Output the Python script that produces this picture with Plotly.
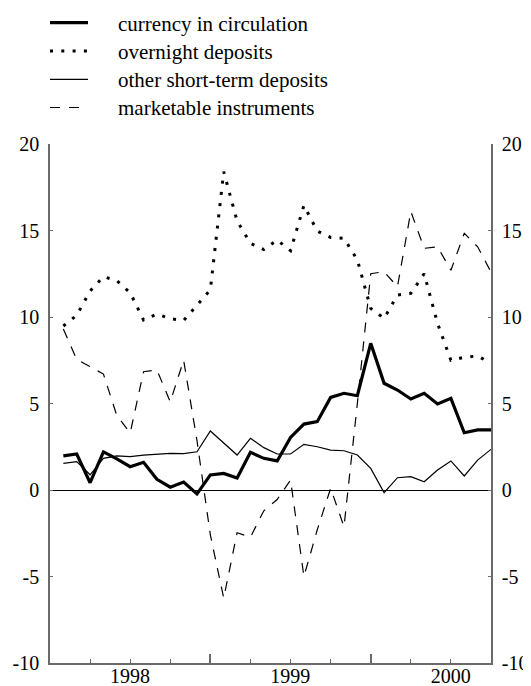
import plotly.graph_objects as go

# months since Dec 1997 (1 = Jan 1998 ... 33 = Sep 2000)
months = list(range(1, 34))

currency = [1.97, 2.08, 0.42, 2.2, 1.8, 1.35, 1.6, 0.62, 0.16, 0.46, -0.23, 0.87,
            0.96, 0.69, 2.18, 1.83, 1.68, 3.04, 3.81, 3.95, 5.35, 5.59, 5.45, 8.48,
            6.17, 5.78, 5.26, 5.59, 4.97, 5.3, 3.31, 3.47, 3.47]
overnight = [9.48, 10.1, 11.5, 12.33, 12.1, 11.4, 9.83, 10.17, 9.9, 9.8, 10.68, 11.58,
             18.4, 15.55, 14.26, 13.9, 14.45, 13.83, 16.45, 14.97, 14.6, 14.55, 13.3, 10.5,
             9.92, 11.27, 11.37, 12.5, 9.63, 7.5, 7.67, 7.75, 7.32]
other_st = [1.54, 1.64, 0.88, 1.83, 1.97, 1.93, 2.02, 2.06, 2.12, 2.1, 2.21, 3.41,
            2.73, 2.02, 2.99, 2.45, 2.08, 2.08, 2.64, 2.5, 2.31, 2.27, 2.02, 1.25,
            -0.15, 0.71, 0.77, 0.48, 1.16, 1.68, 0.81, 1.73, 2.35]
marketable = [9.3, 7.55, 7.13, 6.7, 4.3, 3.3, 6.84, 6.94, 5.1, 7.5, 2.85, -2.6,
              -6.25, -2.47, -2.73, -1.2, -0.55, 0.58, -5.0, -2.3, 0.1, -2.12, 5.0, 12.5,
              12.62, 11.75, 16.1, 13.97, 14.06, 12.7, 14.84, 14.06, 12.6]

series_names = ["currency in circulation", "overnight deposits",
                "other short-term deposits", "marketable instruments"]

year_tickvals = [0, 12, 24]
year_labels = ["1998", "1999", "2000"]
y_tickvals = [-10, -5, 0, 5, 10, 15, 20]
y_ticktext = ["-10", "-5", "0", "5", "10", "15", "20"]

FONT = "Liberation Serif, Times New Roman, DejaVu Serif, serif"
GREY = "#6a6a6a"
OFF = 8                      # default page (body) margin of the html page
W, H = 531 - OFF, 686 - OFF  # figure size inside the page
L, T = 50 - OFF, 144 - OFF   # plot area left/top in figure pixels
PW, PH = 441, 519            # plot area size
R, B = W - L - PW, H - T - PH

styles = [
    dict(color="black", width=3.2, dash="solid"),
    dict(color="black", width=3, dash="3px,8.3px"),
    dict(color="black", width=1.2, dash="solid"),
    dict(color="black", width=1.2, dash="10px,9px"),
]
data = [currency, overnight, other_st, marketable]

fig = go.Figure()
for i, (name, ys, st) in enumerate(zip(series_names, data, styles)):
    fig.add_trace(go.Scatter(
        x=months, y=ys, mode="lines", name=name, line=st,
        yaxis="y2" if i == 3 else "y", showlegend=False, hoverinfo="skip"))

yax = dict(range=[-10, 20], tickvals=y_tickvals, ticktext=y_ticktext,
           ticks="inside", ticklen=3, tickwidth=1.2, tickcolor=GREY,
           showline=True, linecolor=GREY, linewidth=1.5, showgrid=False,
           automargin=False, ticklabelstandoff=5,
           tickfont=dict(family=FONT, size=20, color="black"))

fig.update_layout(
    width=W, height=H,
    margin=dict(l=L, r=R, t=T, b=B, pad=0),
    paper_bgcolor="white", plot_bgcolor="white",
    xaxis=dict(range=[0, 33], tickvals=year_tickvals, ticktext=year_labels,
               ticklabelshift=80, ticklabelstandoff=-6,
               ticks="inside", ticklen=9, tickwidth=1.5,
               tickcolor=GREY, showline=True, linecolor=GREY, linewidth=1.5,
               showgrid=False, zeroline=False, automargin=False,
               tickfont=dict(family=FONT, size=20, color="black"),
               minor=dict(tick0=0, dtick=3, ticks="inside", ticklen=4,
                          tickwidth=1.2, tickcolor=GREY)),
    yaxis=dict(**yax, zeroline=True, zerolinecolor="black", zerolinewidth=1.2,
               side="left"),
    yaxis2=dict(**yax, zeroline=False, overlaying="y", side="right"),
)


# manual legend above the plot area (page pixel positions -> paper coords)
def px(xp):
    return (xp - OFF - L) / PW


def py(yp):
    return (T + PH - (yp - OFF)) / PH


leg_rows = [22.7, 51, 79.3, 107.5]
for name, st, yr in zip(series_names, styles, leg_rows):
    fig.add_shape(type="line", xref="paper", yref="paper",
                  x0=px(50), x1=px(88), y0=py(yr), y1=py(yr), line=st)
    fig.add_annotation(xref="paper", yref="paper", x=px(116), y=py(yr + 1),
                       text=name, showarrow=False, xanchor="left",
                       yanchor="middle",
                       font=dict(family=FONT, size=21, color="black"))

fig.write_html("out.html")
